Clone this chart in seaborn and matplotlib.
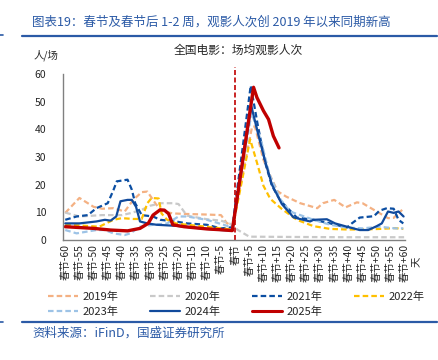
import matplotlib
matplotlib.use('Agg')
import matplotlib.pyplot as plt
import seaborn as sns
from matplotlib.lines import Line2D

# Values (days relative to Spring Festival)
d19 = [-60, -55, -50, -47, -43, -39, -36, -33, -31, -28, -26, -22, -17, -10, -5, -3, -1,
       6, 7, 10, 12.5, 15, 18, 23, 29, 31, 35, 39, 43, 45, 49, 54, 56, 59]
v19 = [9.8, 15.2, 12, 11.3, 11.5, 10.3, 14.5, 17.3, 17.5, 13, 10.5, 9.6, 9.4, 9.2, 9, 6.2, 5,
       41, 41, 29, 23, 17.6, 15.7, 13.3, 11.5, 13.3, 14.5, 11.8, 13.6, 13.3, 10.9, 7.9, 8, 10.9]

d20 = [-60, -55, -47, -40, -37, -33, -30, -26, -22, -20, -17, -10, -5, -2, 1, 5, 20, 40, 60]
v20 = [9.9, 8.5, 9, 9, 9.7, 10.9, 12.4, 13.3, 13.3, 13, 8.8, 7.5, 7, 6, 3.6, 1.2, 1.1, 1.0, 1.0]

d21 = [-60, -56, -52, -49, -45, -43, -41.8, -38, -36.5, -35.3, -33, -29, -26.5, -21, -17, -10, -5, -1,
       5.5, 8, 10.6, 13, 16, 21.8, 27.7, 33.6, 39.5, 41.2, 44, 49, 51, 53.6, 56, 57.7, 59.4]
v21 = [7.3, 8.5, 9, 11.5, 13.3, 18, 21.2, 21.8, 18.2, 13.3, 9, 8.5, 7.3, 6.7, 6, 5.5, 4.2, 4.6,
       55.8, 41.5, 28, 19.6, 14.2, 8.1, 7.3, 6, 4.5, 6, 8.1, 8.6, 10.6, 11.5, 11.3, 7.3, 6]

d22 = [-60, -54, -48, -43, -40, -36, -33, -31, -29.5, -27, -26, -24, -21, -17, -10, -5, -1,
       5.3, 7.7, 10, 12.4, 16.5, 21.8, 27.7, 33.6, 39.5, 45, 51, 56.5, 59.4]
v22 = [5.5, 5.2, 4.8, 7.3, 7.9, 7.6, 7.6, 13.3, 15.2, 15, 9.6, 7.3, 6, 5.5, 4.8, 4.2, 3.8,
       36.4, 28, 19.6, 14.9, 11.2, 7.3, 5, 4, 3.8, 3.8, 4, 4.3, 4]

d23 = [-60, -56, -49, -46, -43, -39, -37, -33.6, -29, -24, -20, -17, -10, -4, -1,
       5.8, 9.4, 12, 16, 19.4, 23, 27.7, 33.6, 39.5, 45, 51, 56.5, 59.4]
v23 = [3.6, 2.4, 3.6, 3.6, 2.4, 1.8, 2.4, 4.8, 5.5, 6, 8.5, 8.5, 7.3, 5.5, 4.5,
       46, 35, 24, 14.7, 10.3, 9, 7.3, 5.5, 4.5, 4.2, 4.8, 4.2, 4.2]

d24 = [-60, -55, -49, -46, -44, -42, -40.5, -38, -36.5, -35, -33.6, -31, -27.7, -20.6, -12, -5, -1,
       5.7, 8.2, 10.6, 13, 16.5, 20.6, 24, 26.5, 27.7, 32.4, 35.3, 39.5, 44, 47, 50, 51.8, 54, 56, 57.7, 59.5]
v24 = [6, 6, 6.7, 7.3, 7, 8.5, 14, 14.5, 14.5, 12, 6.7, 6, 5.5, 5.1, 4.2, 3.6, 3.4,
       48.5, 38, 28.5, 20, 13, 8.2, 7.3, 6.7, 7.3, 7.5, 6, 4.8, 3.6, 3.6, 5, 6, 10.3, 9.8, 10.3, 8.5]

d25 = [-60, -50, -44, -38, -33.6, -30.7, -29, -26.5, -25, -23.5, -22, -18, -10, -5, -1,
       6.5, 7.7, 10, 11.8, 13.5, 15.5]
v25 = [4.8, 4.2, 3.6, 3.3, 4.2, 6, 9, 10.9, 10.8, 9.5, 5.5, 4.8, 4, 3.7, 3.4,
       55.2, 51.5, 46.7, 43.6, 37.6, 33.3]

tick_days = list(range(-60, 61, 5))
tick_labels = [('春节%+d' % d) if d != 0 else '春节' for d in tick_days]

series = [
    ('2019年', d19, v19, '#F4B183', 'dash', 1.6),
    ('2020年', d20, v20, '#C9C9C9', 'dash', 1.6),
    ('2021年', d21, v21, '#0B4EA2', 'dash', 1.6),
    ('2022年', d22, v22, '#FFC000', 'dash', 1.6),
    ('2023年', d23, v23, '#9DC3E6', 'dash', 1.6),
    ('2024年', d24, v24, '#114A9C', 'solid', 1.6),
    ('2025年', d25, v25, '#C00000', 'solid', 2.4),
]

sns.set_style('white')
plt.rcParams['font.family'] = ['Noto Sans CJK SC', 'DejaVu Sans']

W, H = 439, 360
fig = plt.figure(figsize=(W / 100, H / 100), dpi=100)
ax = fig.add_axes([63 / W, 1 - 240 / H, (405 - 63) / W, (240 - 74) / H])

handles = {}
for name, d, v, c, ls, lw in series:
    style = (0, (2.5, 1.4)) if ls == 'dash' else '-'
    sns.lineplot(x=d, y=v, ax=ax, color=c, linestyle=style, linewidth=lw)
    handles[name] = Line2D([], [], color=c, linestyle=style, linewidth=1.6 if lw < 2 else 2.2)

# Spring Festival marker
ax.plot([0, 0], [0, 62.5], color='#C00000', linestyle=(0, (3, 1.5)), linewidth=1.2, clip_on=False)

ax.set_xlim(-60.8, 60)
ax.set_ylim(0, 60)
ax.set_yticks(range(0, 61, 10))
ax.set_xticks(tick_days)
ax.set_xticklabels(tick_labels, rotation=90, fontsize=7.5)
ax.tick_params(axis='y', labelsize=7.5, direction='in', length=3, color='#808080', pad=12)
ax.tick_params(axis='x', length=0, pad=3)
for lab in ax.get_xticklabels():
    lab.set_verticalalignment('top')
for s in ['top', 'right']:
    ax.spines[s].set_visible(False)
for s in ['left', 'bottom']:
    ax.spines[s].set_color('#808080')
    ax.spines[s].set_linewidth(1.0)
ax.set_xlabel('')
ax.set_ylabel('')

fig.text(417 / W, 1 - 262 / H, '天', rotation=90, fontsize=7.5, ha='center', va='center')
fig.text(238 / W, 1 - 50 / H, '全国电影：场均观影人次', fontsize=8.5, ha='center', va='center')
fig.text(34 / W, 1 - 55 / H, '人/场', fontsize=7.5, ha='left', va='center')

# Legend, row-major order for a 4-column layout
order = ['2019年', '2023年', '2020年', '2024年', '2021年', '2025年', '2022年']
fig.legend([handles[k] for k in order], order, ncol=4, loc='upper left',
           bbox_to_anchor=(48 / W, 1 - 292 / H), frameon=False, fontsize=8,
           handlelength=2.7, handletextpad=0.4, columnspacing=2.85, labelspacing=0.35,
           borderaxespad=0, borderpad=0)

# Report header / footer
blue = '#2B5AA6'
fig.add_artist(Line2D([22 / W, 437 / W], [1 - 36 / H] * 2, color=blue, lw=1.6))
fig.add_artist(Line2D([22 / W, 437 / W], [1 - 322 / H] * 2, color=blue, lw=1.6))
fig.add_artist(Line2D([0, 3 / W], [1 - 35 / H] * 2, color=blue, lw=1.2))
fig.add_artist(Line2D([0, 3 / W], [1 - 322 / H] * 2, color=blue, lw=1.2))
fig.text(32 / W, 1 - 22 / H, '图表19：春节及春节后 1-2 周，观影人次创 2019 年以来同期新高',
         fontsize=9, color=blue, style='italic', ha='left', va='center')
fig.text(32 / W, 1 - 333 / H, '资料来源：iFinD，国盛证券研究所',
         fontsize=9, color=blue, style='italic', ha='left', va='center')

fig.savefig('out.png', dpi=100)
plt.close(fig)
